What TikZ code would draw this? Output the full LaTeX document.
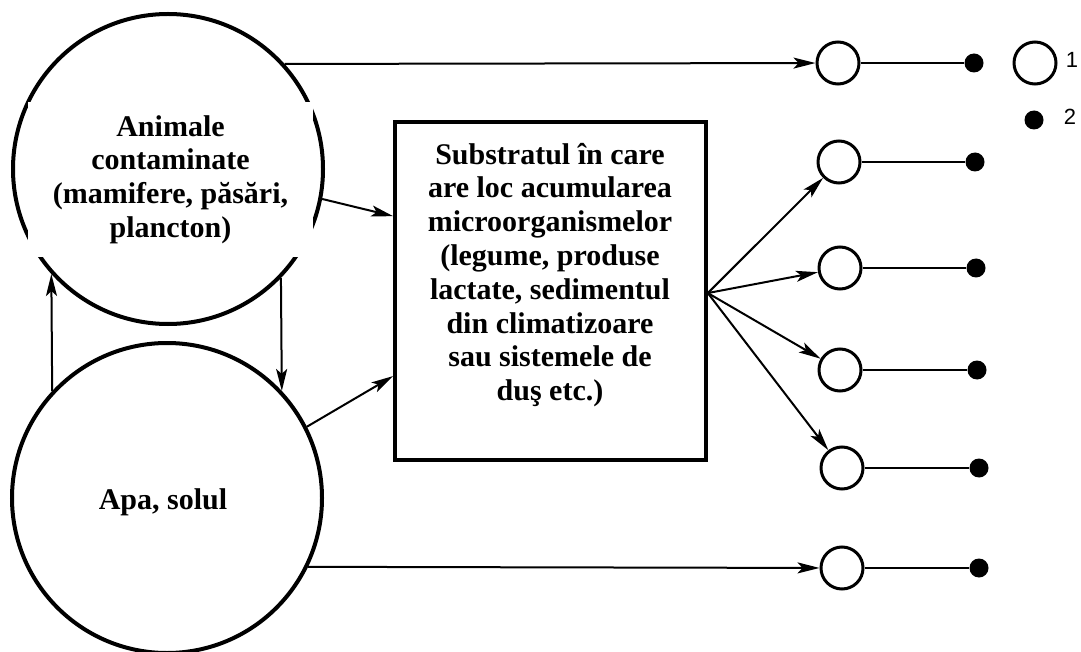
\documentclass[tikz,border=0pt]{standalone}
\usepackage{fontspec}
\setmainfont{Liberation Serif}
\setsansfont{Liberation Sans}
\usetikzlibrary{arrows.meta,calc}
\begin{document}
\begin{tikzpicture}[x=1pt,y=-1pt,
  bigcirc/.style={circle,draw,line width=4pt,minimum size=310pt,inner sep=0pt},
  smallcirc/.style={circle,draw,line width=3pt,minimum size=42pt,inner sep=0pt,fill=white},
  dotnode/.style={circle,fill=black,minimum size=19pt,inner sep=0pt},
  bigtext/.style={font=\bfseries\fontsize{30}{33.8}\selectfont,align=center,inner sep=0pt},
  conn/.style={line width=2pt,-{Stealth[length=22pt,width=11pt,inset=5pt]}},
  plainline/.style={line width=2pt},
  legendnum/.style={font=\sffamily\fontsize{22}{22}\selectfont,inner sep=0pt}]
\useasboundingbox (0,0) rectangle (1081,652);

% the two sources
\node[bigcirc] (animals) at (168,169) {};
\node[bigcirc] (water) at (167,498) {};
\node[bigtext,fill=white,minimum width=285pt,minimum height=155pt] (animaltext) at (170.5,179.5)
  {Animale\\contaminate\\(mamifere, păsări,\\plancton)};
\node[bigtext] (watertext) at (163,502) {Apa, solul};

% the substrate box
\node[draw,line width=3.6pt,minimum width=311pt,minimum height=338pt,inner sep=0pt] (box) at (550.5,291) {};
\node[bigtext] (boxtext) at (550,275)
  {Substratul în care\\are loc acumularea\\microorganismelor\\(legume, produse\\lactate, sedimentul\\din climatizoare\\sau sistemele de\\duş etc.)};

% outcomes: open circle joined to a dot
\foreach \i/\cx/\cy/\dx in {1/838/63/974, 2/839/162/975, 3/840/268/976, 4/840/370/977, 5/842/468/979, 6/842/568/979} {
  \node[smallcirc] (c\i) at (\cx,\cy) {};
  \node[dotnode] (d\i) at (\dx,\cy) {};
  \draw[plainline] (c\i) -- (d\i);
}

% legend
\node[smallcirc] (legcirc) at (1035,63) {};
\node[dotnode] (legdot) at (1034,120) {};
\node[legendnum] (leg1) at (1072,60) {1};
\node[legendnum] (leg2) at (1070,117) {2};

% connectors
\coordinate (boxin1) at ($(box.north west)!0.281!(box.south west)$);
\coordinate (boxin2) at ($(box.north west)!0.749!(box.south west)$);
\coordinate (boxout) at ($(box.north east)!0.506!(box.south east)$);

\draw[conn] (animals.42.6) -- (c1);
\draw[conn] (water.-26.6) -- (c6);
\draw[conn] (animals.-11.5) -- (boxin1);
\draw[conn] (water.27.9) -- (boxin2);
\foreach \i in {2,...,5} \draw[conn] (boxout) -- (c\i);
\draw[conn] (water.137.9) -- (animals.-138.4);
\draw[conn] (animals.-44.3) -- (water.43.7);
\end{tikzpicture}
\end{document}
